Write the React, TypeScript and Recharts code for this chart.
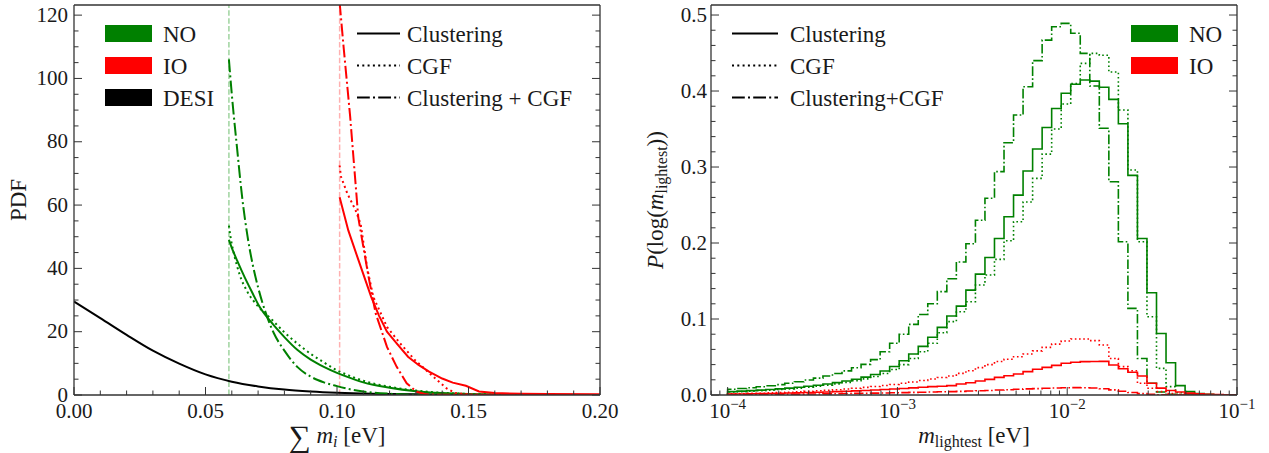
import React from "react";
import { LineChart, Line, XAxis, YAxis, ReferenceLine } from "recharts";

const FONT = "'Liberation Serif', 'DejaVu Serif', serif";
const GREEN = "#008000";
const RED = "#ff0000";
const INK = "#1a1a1a";
const SPINE = "#333333";

// ---------- left panel: PDF of the sum of masses ----------
const desiSum = [0, 0.01, 0.02, 0.03, 0.04, 0.05, 0.06, 0.07, 0.08, 0.09, 0.1, 0.11, 0.12, 0.14, 0.16, 0.18, 0.2];
const desiPdf = [29.5, 24.3, 19.0, 14.0, 9.9, 6.5, 4.2, 2.7, 1.7, 1.1, 0.7, 0.45, 0.3, 0.12, 0.05, 0.02, 0.0];

const noSumClu = [0.0589, 0.06, 0.062, 0.065, 0.068, 0.07, 0.075, 0.08, 0.085, 0.09, 0.095, 0.1, 0.105, 0.11, 0.12, 0.13, 0.14, 0.15, 0.17, 0.2];
const noPdfClu = [49, 46.5, 42.5, 37, 32, 28.7, 23, 18.3, 14.2, 11.2, 8.9, 7.0, 5.4, 4.0, 2.3, 1.2, 0.6, 0.3, 0.08, 0];

const noSumCgf = [0.0589, 0.0595, 0.061, 0.063, 0.066, 0.07, 0.075, 0.08, 0.085, 0.09, 0.095, 0.1, 0.105, 0.11, 0.12, 0.13, 0.14, 0.15, 0.17, 0.2];
const noPdfCgf = [53.5, 50, 44, 38, 32.5, 28, 24, 19.8, 16.2, 13.0, 10.3, 7.8, 6.0, 4.5, 2.6, 1.4, 0.7, 0.35, 0.08, 0];

const noSumComb = [0.0589, 0.06, 0.062, 0.064, 0.066, 0.068, 0.07, 0.0733, 0.076, 0.08, 0.085, 0.09, 0.095, 0.1, 0.105, 0.11, 0.12, 0.13, 0.14, 0.2];
const noPdfComb = [106, 95, 78, 62, 50, 41, 34, 25, 19.5, 14, 8.8, 5.8, 4.0, 2.8, 1.8, 1.1, 0.4, 0.15, 0.05, 0];

const ioSumClu = [0.101, 0.1043, 0.108, 0.113, 0.116, 0.119, 0.123, 0.127, 0.131, 0.135, 0.14, 0.144, 0.149, 0.154, 0.16, 0.17, 0.18, 0.2];
const ioPdfClu = [62.5, 52, 43, 31, 25, 20, 16, 12.1, 9.5, 7.4, 5.2, 3.9, 2.9, 1.1, 0.6, 0.4, 0.3, 0.2];

const ioSumCgf = [0.101, 0.1015, 0.104, 0.107, 0.109, 0.1115, 0.1138, 0.119, 0.124, 0.1297, 0.1366, 0.1417, 0.145, 0.15, 0.16, 0.2];
const ioPdfCgf = [72.5, 69, 63.5, 58.5, 54, 40, 31, 21.5, 16.3, 11, 5.8, 2.1, 0.6, 0.2, 0.05, 0];

const ioSumComb = [0.101, 0.1025, 0.105, 0.1081, 0.112, 0.1147, 0.119, 0.1227, 0.1265, 0.1303, 0.134, 0.14, 0.2];
const ioPdfComb = [124, 110, 88, 56, 37.3, 25.8, 15.2, 8.9, 3.7, 1.0, 0.2, 0.05, 0];

const noMinSum = 0.0589;
const ioMinSum = 0.101;

// ---------- right panel: histograms of log10(m_lightest) ----------
const binExp = [
  -4.0, -3.9439, -3.8877, -3.8316, -3.7755, -3.7193, -3.6632, -3.6071, -3.551, -3.4948,
  -3.4387, -3.3826, -3.3264, -3.2703, -3.2142, -3.158, -3.1019, -3.0458, -2.9897, -2.9335,
  -2.8774, -2.8213, -2.7651, -2.709, -2.6529, -2.5967, -2.5406, -2.4845, -2.4284, -2.3722,
  -2.3161, -2.26, -2.2038, -2.1477, -2.0916, -2.0354, -1.9793, -1.9232, -1.8671, -1.8109,
  -1.7548, -1.6987, -1.6425, -1.5864, -1.5303, -1.4741, -1.418, -1.3619, -1.3058, -1.2496,
  -1.1935, -1.1374, -1.0812, -1.0251, -0.969,
];

const noClu = [
  0.0045, 0.0051, 0.0057, 0.0064, 0.0072, 0.0081, 0.0091, 0.0102, 0.0115, 0.0129,
  0.0145, 0.0163, 0.0184, 0.0207, 0.0235, 0.027, 0.0315, 0.0375, 0.045, 0.054,
  0.064, 0.076, 0.089, 0.104, 0.117, 0.138, 0.159, 0.181, 0.206, 0.2346,
  0.263, 0.2947, 0.3237, 0.352, 0.377, 0.397, 0.409, 0.4145, 0.413, 0.405,
  0.389, 0.357, 0.289, 0.206, 0.1346, 0.081, 0.0425, 0.0123, 0.0044, 0.002,
  0.0008, 0.0004, 0.0002, 0.0001,
];
const noCgf = [
  0.004, 0.0045, 0.0051, 0.0057, 0.0064, 0.0072, 0.0081, 0.0091, 0.0103, 0.0116,
  0.013, 0.0147, 0.0166, 0.0187, 0.0212, 0.0243, 0.0283, 0.0335, 0.04, 0.048,
  0.057, 0.068, 0.082, 0.0965, 0.1096, 0.1228, 0.1447, 0.158, 0.1785, 0.203,
  0.228, 0.254, 0.285, 0.317, 0.35, 0.383, 0.41, 0.4364, 0.4496, 0.447,
  0.425, 0.375, 0.296, 0.2017, 0.103, 0.035, 0.011, 0.003, 0.001, 0.0003,
  0.0001, 0, 0, 0,
];
const noComb = [
  0.0075, 0.0085, 0.0096, 0.0108, 0.0122, 0.0137, 0.0155, 0.0175, 0.0197, 0.0222,
  0.025, 0.0282, 0.0318, 0.0358, 0.0403, 0.0465, 0.057, 0.068, 0.08, 0.093,
  0.106, 0.12, 0.136, 0.153, 0.175, 0.199, 0.23, 0.259, 0.294, 0.332,
  0.3684, 0.4057, 0.44, 0.467, 0.4846, 0.489, 0.476, 0.4496, 0.4066, 0.351,
  0.2807, 0.2017, 0.114, 0.048, 0.0154, 0.004, 0.001, 0, 0, 0,
  0, 0, 0, 0,
];
const ioClu = [
  0.0012, 0.0014, 0.0016, 0.0018, 0.002, 0.0023, 0.0026, 0.0029, 0.0032, 0.0036,
  0.004, 0.0044, 0.0049, 0.0054, 0.006, 0.0066, 0.0072, 0.0079, 0.0086, 0.0094,
  0.0102, 0.011, 0.0116, 0.0123, 0.0145, 0.0162, 0.0184, 0.0206, 0.0232, 0.0254,
  0.0276, 0.0307, 0.0338, 0.0364, 0.039, 0.0417, 0.043, 0.0439, 0.044, 0.0442,
  0.0395, 0.0345, 0.03, 0.025, 0.0154, 0.009, 0.006, 0.004, 0.0025, 0.0015,
  0.001, 0.0005, 0.0003, 0.0001,
];
const ioCgf = [
  0.0015, 0.0018, 0.0021, 0.0024, 0.0028, 0.0032, 0.0037, 0.0042, 0.0048, 0.0055,
  0.0062, 0.007, 0.0079, 0.0089, 0.01, 0.0112, 0.0125, 0.0139, 0.0155, 0.0172,
  0.019, 0.021, 0.023, 0.025, 0.0285, 0.032, 0.036, 0.04, 0.044, 0.047,
  0.0504, 0.054, 0.058, 0.0627, 0.067, 0.071, 0.0737, 0.0737, 0.0715, 0.0658,
  0.048, 0.0373, 0.032, 0.0154, 0.0088, 0.0044, 0.002, 0.001, 0.0005, 0.0002,
  0.0001, 0, 0, 0,
];
const ioComb = [
  0.0005, 0.0006, 0.0007, 0.0008, 0.0009, 0.001, 0.0011, 0.0012, 0.0013, 0.0014,
  0.0015, 0.0017, 0.0019, 0.0021, 0.0023, 0.0025, 0.0027, 0.0029, 0.0031, 0.0034,
  0.0037, 0.004, 0.0042, 0.0044, 0.0048, 0.0052, 0.0056, 0.006, 0.0065, 0.007,
  0.0075, 0.008, 0.0084, 0.0088, 0.0092, 0.0095, 0.0097, 0.0096, 0.0092, 0.0082,
  0.0068, 0.005, 0.0032, 0.0018, 0.0009, 0.0004, 0.0002, 0, 0, 0,
  0, 0, 0, 0,
];

// legend texts
const orderingNames = ["NO", "IO", "DESI"];
const orderingColors = [GREEN, RED, "#000000"];
const styleNamesLeft = ["Clustering", "CGF", "Clustering + CGF"];
const styleNamesRight = ["Clustering", "CGF", "Clustering+CGF"];

// ticks
const leftXMajor = [0, 0.05, 0.1, 0.15, 0.2];
const leftYMajor = [0, 20, 40, 60, 80, 100, 120];
const rightYMajor = [0, 0.1, 0.2, 0.3, 0.4, 0.5];
const rightXMajor = [1e-4, 1e-3, 1e-2, 1e-1];

const leftXTicks = Array.from({ length: 21 }, (_, i) => Number((i * 0.01).toFixed(3)));
const leftYTicks = Array.from({ length: 25 }, (_, i) => i * 5);
const rightYTicks = Array.from({ length: 26 }, (_, i) => Number((i * 0.02).toFixed(3)));
const rightXTicks: number[] = [8e-5, 9e-5];
[1e-4, 1e-3, 1e-2].forEach((d) => {
  for (let j = 1; j <= 9; j++) rightXTicks.push(Number((j * d).toPrecision(3)));
});
rightXTicks.push(1e-1);

const xMinRight = Math.pow(10, -4.098);
const yMaxLeft = 123.2;
const yMaxRight = 0.5132;

const pts = (xs: number[], ys: number[]) => xs.map((x, i) => ({ x, y: ys[i] }));

// step table: one row per bin edge, closed to zero at both ends
const histRows = (() => {
  const series: Record<string, number[]> = { noClu, noCgf, noComb, ioClu, ioCgf, ioComb };
  const keys = Object.keys(series);
  const rows: Record<string, number>[] = [];
  const zero: Record<string, number> = { m: Math.pow(10, binExp[0]) };
  keys.forEach((k) => (zero[k] = 0));
  rows.push(zero);
  binExp.forEach((e, i) => {
    const r: Record<string, number> = { m: Math.pow(10, e) };
    const idx = Math.min(i, noClu.length - 1);
    keys.forEach((k) => (r[k] = series[k][idx]));
    rows.push(r);
  });
  const end: Record<string, number> = { m: Math.pow(10, binExp[binExp.length - 1]) };
  keys.forEach((k) => (end[k] = 0));
  rows.push(end);
  return rows;
})();

type Side = "bottom" | "top" | "left" | "right";

const near = (a: number, b: number) => Math.abs(a - b) <= 1e-9 + 1e-6 * Math.abs(b);

function tickFn(side: Side, majors: number[], label?: (v: number) => React.ReactNode, gap = 6) {
  return (props: any) => {
    const { x, y, payload } = props;
    const v = payload.value as number;
    const major = majors.some((m) => near(v, m));
    const len = major ? 8 : 4.5;
    let x2 = x;
    let y2 = y;
    if (side === "bottom") y2 = y - len;
    if (side === "top") y2 = y + len;
    if (side === "left") x2 = x + len;
    if (side === "right") x2 = x - len;
    return (
      <g>
        <line x1={x} y1={y} x2={x2} y2={y2} stroke={SPINE} strokeWidth={1} />
        {major && label && side === "bottom" && (
          <text x={x} y={y + 23} textAnchor="middle" fontSize={21} fontFamily={FONT} fill={INK}>
            {label(v)}
          </text>
        )}
        {major && label && side === "left" && (
          <text x={x - gap} y={y + 6.5} textAnchor="end" fontSize={21} fontFamily={FONT} fill={INK}>
            {label(v)}
          </text>
        )}
      </g>
    );
  };
}

const powLabel = (v: number) => {
  const e = Math.round(Math.log10(v));
  return (
    <>
      <tspan>10</tspan>
      <tspan dy={-9} fontSize={15}>{"\u2212" + Math.abs(e)}</tspan>
    </>
  );
};

const axisCommon = {
  tickLine: false,
  tickSize: 0,
  tickMargin: 0,
  interval: 0 as const,
  allowDataOverflow: true,
  axisLine: { stroke: SPINE, strokeWidth: 1.3 },
};

// axes are 1px thick; plot area spans x 74..600, y 5..395 inside each 620x453 chart
const MARGIN = { top: 4, right: 19, bottom: 57, left: 73 };

function LeftPanel() {
  return (
    <LineChart width={620} height={453} margin={MARGIN}>
      <XAxis {...axisCommon} dataKey="x" type="number" domain={[0, 0.2]} ticks={leftXTicks} height={1}
        tick={tickFn("bottom", leftXMajor, (v) => v.toFixed(2))} />
      <XAxis {...axisCommon} xAxisId="top" orientation="top" type="number" domain={[0, 0.2]} ticks={leftXTicks} height={1}
        tick={tickFn("top", leftXMajor)} />
      <YAxis {...axisCommon} type="number" domain={[0, yMaxLeft]} ticks={leftYTicks} width={1}
        tick={tickFn("left", leftYMajor, (v) => String(v), 6)} />
      <YAxis {...axisCommon} yAxisId="r" orientation="right" type="number" domain={[0, yMaxLeft]} ticks={leftYTicks} width={1}
        tick={tickFn("right", leftYMajor)} />
      <ReferenceLine x={noMinSum} stroke="#9fd49f" strokeWidth={1.5} strokeDasharray="5.5 2.4" />
      <ReferenceLine x={ioMinSum} stroke="#ffb0b0" strokeWidth={1.5} strokeDasharray="5.5 2.4" />
      <Line data={pts(desiSum, desiPdf)} dataKey="y" type="monotone" stroke="#000" strokeWidth={2} dot={false} isAnimationActive={false} />
      <Line data={pts(noSumClu, noPdfClu)} dataKey="y" type="monotone" stroke={GREEN} strokeWidth={2} dot={false} isAnimationActive={false} />
      <Line data={pts(noSumCgf, noPdfCgf)} dataKey="y" type="monotone" stroke={GREEN} strokeWidth={2} strokeDasharray="2 3.3" dot={false} isAnimationActive={false} />
      <Line data={pts(noSumComb, noPdfComb)} dataKey="y" type="monotone" stroke={GREEN} strokeWidth={2} strokeDasharray="12.8 3.2 2 3.2" dot={false} isAnimationActive={false} />
      <Line data={pts(ioSumClu, ioPdfClu)} dataKey="y" type="linear" stroke={RED} strokeWidth={2} dot={false} isAnimationActive={false} />
      <Line data={pts(ioSumCgf, ioPdfCgf)} dataKey="y" type="linear" stroke={RED} strokeWidth={2} strokeDasharray="2 3.3" dot={false} isAnimationActive={false} />
      <Line data={pts(ioSumComb, ioPdfComb)} dataKey="y" type="linear" stroke={RED} strokeWidth={2} strokeDasharray="12.8 3.2 2 3.2" dot={false} isAnimationActive={false} />
    </LineChart>
  );
}

function RightPanel() {
  const step = (key: string, color: string, dash?: string) => (
    <Line dataKey={key} type="stepAfter" stroke={color} strokeWidth={1.6} strokeDasharray={dash}
      dot={false} isAnimationActive={false} />
  );
  return (
    <LineChart width={620} height={453} margin={MARGIN} data={histRows}>
      <XAxis {...axisCommon} dataKey="m" type="number" scale="log" domain={[xMinRight, 0.1]} ticks={rightXTicks} height={1}
        tick={tickFn("bottom", rightXMajor, powLabel)} />
      <XAxis {...axisCommon} xAxisId="top" orientation="top" type="number" scale="log" domain={[xMinRight, 0.1]} ticks={rightXTicks} height={1}
        tick={tickFn("top", rightXMajor)} />
      <YAxis {...axisCommon} type="number" domain={[0, yMaxRight]} ticks={rightYTicks} width={1}
        tick={tickFn("left", rightYMajor, (v) => v.toFixed(1), 4)} />
      <YAxis {...axisCommon} yAxisId="r" orientation="right" type="number" domain={[0, yMaxRight]} ticks={rightYTicks} width={1}
        tick={tickFn("right", rightYMajor)} />
      {step("noClu", GREEN)}
      {step("noCgf", GREEN, "1.6 2.6")}
      {step("noComb", GREEN, "9.6 2.4 1.6 2.4")}
      {step("ioClu", RED)}
      {step("ioCgf", RED, "1.6 2.6")}
      {step("ioComb", RED, "9.6 2.4 1.6 2.4")}
    </LineChart>
  );
}

const styleDash = [undefined, "2 3.3", "12.8 3.2 2 3.2"];
const rowY = (i: number) => 33.5 + 32 * i;

function Overlay() {
  return (
    <svg width={1269} height={453} style={{ position: "absolute", left: 0, top: 0, pointerEvents: "none" }}
      fontFamily={FONT} fill={INK}>
      {/* left panel legends */}
      {orderingNames.map((n, i) => (
        <g key={"lp" + n}>
          <rect x={105} y={rowY(i) - 8.5} width={47} height={17} fill={orderingColors[i]} />
          <text x={163} y={rowY(i) + 8.5} fontSize={23}>{n}</text>
        </g>
      ))}
      {styleNamesLeft.map((n, i) => (
        <g key={"ls" + n}>
          <line x1={357} x2={400} y1={rowY(i)} y2={rowY(i)} stroke="#000" strokeWidth={2} strokeDasharray={styleDash[i]} />
          <text x={407} y={rowY(i) + 8.5} fontSize={23}>{n}</text>
        </g>
      ))}
      {/* right panel legends */}
      {styleNamesRight.map((n, i) => (
        <g key={"rs" + n}>
          <line x1={732} x2={778} y1={rowY(i)} y2={rowY(i)} stroke="#000" strokeWidth={2} strokeDasharray={styleDash[i]} />
          <text x={790} y={rowY(i) + 8.5} fontSize={23}>{n}</text>
        </g>
      ))}
      {orderingNames.slice(0, 2).map((n, i) => (
        <g key={"rp" + n}>
          <rect x={1131} y={rowY(i) - 8.5} width={47} height={17} fill={orderingColors[i]} />
          <text x={1189} y={rowY(i) + 8.5} fontSize={23}>{n}</text>
        </g>
      ))}
      {/* axis titles */}
      <text transform="translate(26,200) rotate(-90)" textAnchor="middle" fontSize={23}>PDF</text>
      <text x={337} y={443} textAnchor="middle" fontSize={23}>
        <tspan fontSize={31} dy={4}>{"\u2211"}</tspan>
        <tspan dy={-4}> </tspan>
        <tspan fontStyle="italic">m</tspan>
        <tspan fontSize={16} fontStyle="italic" dy={4}>i</tspan>
        <tspan dy={-4}> [eV]</tspan>
      </text>
      <text x={974} y={443} textAnchor="middle" fontSize={23}>
        <tspan fontStyle="italic">m</tspan>
        <tspan fontSize={16} dy={4}>lightest</tspan>
        <tspan dy={-4}> [eV]</tspan>
      </text>
      <text transform="translate(663,200) rotate(-90)" textAnchor="middle" fontSize={23}>
        <tspan fontStyle="italic">P</tspan>
        <tspan>(log(</tspan>
        <tspan fontStyle="italic">m</tspan>
        <tspan fontSize={16} dy={4}>lightest</tspan>
        <tspan dy={-4}>))</tspan>
      </text>
    </svg>
  );
}

export default function App() {
  return (
    <div style={{ position: "absolute", left: 0, top: 0, width: 1269, height: 453, background: "#fff", fontFamily: FONT }}>
      <div style={{ position: "absolute", left: 0, top: 0 }}>
        <LeftPanel />
      </div>
      <div style={{ position: "absolute", left: 637, top: 0 }}>
        <RightPanel />
      </div>
      <Overlay />
    </div>
  );
}
